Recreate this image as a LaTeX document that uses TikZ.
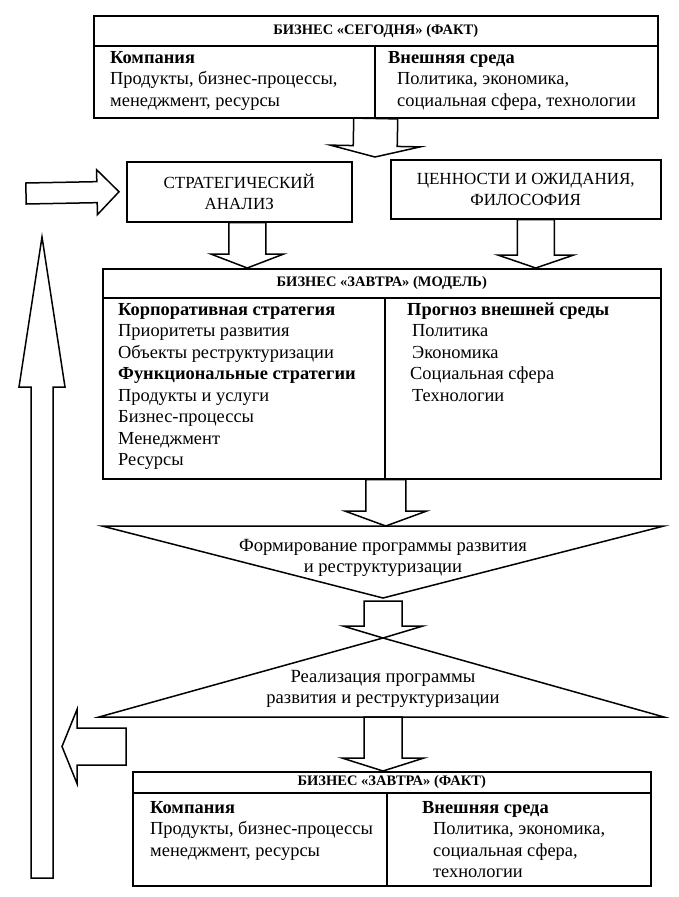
\documentclass[tikz,border=0pt]{standalone}
\usepackage{fontspec}
\setmainfont{Liberation Serif}
\usetikzlibrary{calc,positioning}

% block arrow: from, to, half shaft, half head, head length
\newcommand{\blockarrow}[5]{%
  \coordinate (hb) at ($(#2)!#5!(#1)$);
  \draw[block] ($(#1)!#3!90:(#2)$) -- ($(hb)!#3!90:(#2)$) -- ($(hb)!#4!90:(#2)$)
    -- (#2) -- ($(hb)!#4!-90:(#2)$) -- ($(hb)!#3!-90:(#2)$) -- ($(#1)!#3!-90:(#2)$) -- cycle;}

\tikzset{
  box/.style={draw, line width=1.5pt, anchor=north west, inner sep=0pt},
  rule/.style={line width=1.5pt},
  block/.style={draw, line width=1.5pt, line join=miter},
  hdr/.style={font=\bfseries\fontsize{14.5}{16}\selectfont, inner sep=0pt},
  txt/.style={font=\fontsize{18.4}{21.5}\selectfont, align=left, anchor=north west, inner sep=0pt},
  capt/.style={font=\fontsize{17}{20.5}\selectfont, align=center},
  prog/.style={font=\fontsize{18.6}{21.5}\selectfont, align=center},
}

\begin{document}
\begin{tikzpicture}[x=1pt,y=-1pt]
  \useasboundingbox (0,0) rectangle (679,897);

  % Business today
  \node[box, minimum width=564pt, minimum height=102pt] (today) at (93,15) {};
  \draw[rule] ([yshift=-31pt]today.north west) -- ([yshift=-31pt]today.north east);
  \draw[rule] ([xshift=282pt,yshift=-31pt]today.north west) -- ([xshift=282pt]today.south west);
  \node[hdr] (todayhdr) at ([yshift=-16pt]today.north) {БИЗНЕС «СЕГОДНЯ» (ФАКТ)};
  \node[txt] (todayco) at (110,48) {\strut\textbf{Компания}\\
    Продукты, бизнес-процессы,\\
    менеджмент, ресурсы};
  \node[txt] (todayenv) at (388,48) {\strut\textbf{Внешняя среда}\\
    \hspace*{9pt}Политика, экономика,\\
    \hspace*{9pt}социальная сфера, технологии};

  % Analysis and values
  \node[box, capt, minimum width=225pt, minimum height=60pt] (strat) at (126,161) {СТРАТЕГИЧЕСКИЙ\\АНАЛИЗ};
  \node[box, capt, minimum width=270pt, minimum height=59pt] (values) at (390,159) {ЦЕННОСТИ И ОЖИДАНИЯ,\\ФИЛОСОФИЯ};

  % Business tomorrow (model)
  \node[box, minimum width=558pt, minimum height=210pt] (model) at (102,268) {};
  \draw[rule] ([yshift=-30pt]model.north west) -- ([yshift=-30pt]model.north east);
  \draw[rule] ([xshift=283pt,yshift=-30pt]model.north west) -- ([xshift=283pt]model.south west);
  \node[hdr] (modelhdr) at ([yshift=-15pt]model.north) {БИЗНЕС «ЗАВТРА» (МОДЕЛЬ)};
  \node[txt] (modelco) at (118,300) {\strut\textbf{Корпоративная стратегия}\\
    Приоритеты развития\\
    Объекты реструктуризации\\
    \textbf{Функциональные стратегии}\\
    Продукты и услуги\\
    Бизнес-процессы\\
    Менеджмент\\
    Ресурсы};
  \node[txt] (modelenv) at (407,300) {\strut\textbf{Прогноз внешней среды}\\
    \hspace*{5pt}Политика\\
    \hspace*{5pt}Экономика\\
    \hspace*{3pt}Социальная сфера\\
    \hspace*{5pt}Технологии};

  % Programme triangles
  \coordinate (f1) at (102,526);
  \coordinate (f2) at (664,526);
  \coordinate (f3) at (383,598);
  \draw[rule, line join=miter] (f1) -- (f2) -- (f3) -- cycle;
  \node[prog] (form) at (383,558) {Формирование программы развития\\и реструктуризации};
  \coordinate (r1) at (99,717);
  \coordinate (r2) at (664,717);
  \coordinate (r3) at (383,638);
  \draw[rule, line join=miter] (r1) -- (r2) -- (r3) -- cycle;
  \node[prog] (real) at (383,689) {Реализация программы\\развития и реструктуризации};

  % Business tomorrow (fact)
  \node[box, minimum width=518pt, minimum height=114pt] (done) at (132,771) {};
  \draw[rule] ([yshift=-22pt]done.north west) -- ([yshift=-22pt]done.north east);
  \draw[rule] ([xshift=255pt,yshift=-22pt]done.north west) -- ([xshift=255pt]done.south west);
  \node[hdr] (donehdr) at ([yshift=-11pt]done.north) {БИЗНЕС «ЗАВТРА» (ФАКТ)};
  \node[txt] (doneco) at (150,798) {\strut\textbf{Компания}\\
    Продукты, бизнес-процессы\\
    менеджмент, ресурсы};
  \node[txt] (doneenv) at (422,798) {\strut\textbf{Внешняя среда}\\
    \hspace*{11pt}Политика, экономика,\\
    \hspace*{11pt}социальная сфера,\\
    \hspace*{11pt}технологии};

  % Block arrows down the middle
  \coordinate (a1tip) at (375,157);
  \blockarrow{today.south}{a1tip}{22pt}{45pt}{11pt}
  \coordinate (a2) at ([xshift=8pt]strat.south);
  \coordinate (a2tip) at (a2 |- model.north);
  \blockarrow{a2}{a2tip}{18.5pt}{36.5pt}{14pt}
  \coordinate (a3) at ([xshift=10pt]values.south);
  \coordinate (a3tip) at (a3 |- model.north);
  \blockarrow{a3}{a3tip}{18.5pt}{38pt}{13pt}
  \coordinate (a4) at ([xshift=4pt]model.south);
  \coordinate (a4tip) at (a4 |- f1);
  \blockarrow{a4}{a4tip}{20pt}{41pt}{15pt}
  \coordinate (a5) at ([yshift=-3pt]f3);
  \blockarrow{a5}{r3}{19pt}{40pt}{12pt}
  \coordinate (a6) at (r3 |- r1);
  \coordinate (a6tip) at (a6 |- done.north);
  \blockarrow{a6}{a6tip}{19pt}{41pt}{13pt}

  % Feedback loop on the left
  \coordinate (upfoot) at (42,878);
  \coordinate (uptip) at (42,237);
  \blockarrow{upfoot}{uptip}{11pt}{23pt}{150pt}
  \coordinate (lfoot) at (126,746.5);
  \coordinate (ltip) at (62,746.5);
  \blockarrow{lfoot}{ltip}{18.5pt}{37pt}{15pt}
  \coordinate (rfoot) at (26,193.5);
  \coordinate (rtip) at ([xshift=-7pt]strat.west);
  \blockarrow{rfoot}{rtip}{10.5pt}{22.5pt}{22pt}
\end{tikzpicture}
\end{document}
